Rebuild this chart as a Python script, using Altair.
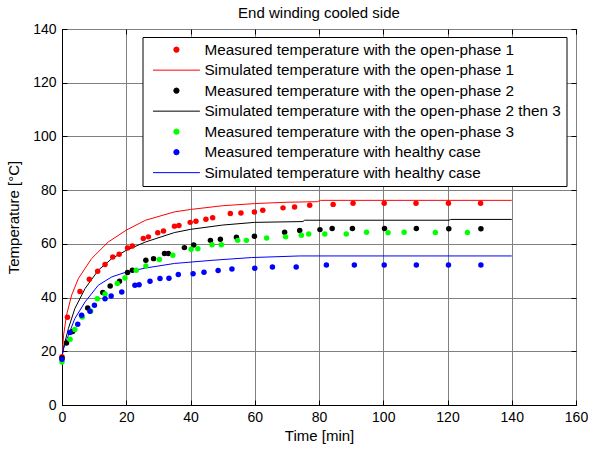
import altair as alt
import pandas as pd

FONT = "Liberation Sans"

labels = [
    "Measured temperature with the open-phase 1",
    "Simulated temperature with the open-phase 1",
    "Measured temperature with the open-phase 2",
    "Simulated temperature with the open-phase 2 then 3",
    "Measured temperature with the open-phase 3",
    "Measured temperature with healthy case",
    "Simulated temperature with healthy case",
]
colors = ["#ff0000", "#ff0000", "#000000", "#000000", "#00ff00", "#0000ff", "#0000ff"]

# Measured points
t_red = [0, 1.7, 5.6, 8.5, 11.1, 13.4, 15.8, 17.8, 20.4, 21.9, 25.3, 26.9, 29.8, 31.6, 35.0, 36.4,
         39.9, 41.7, 44.8, 46.9, 52.4, 55.7, 59.9, 62.5, 68.8, 72.4, 77.1, 84.4, 90.6, 100.3, 110.2,
         120.3, 130.3]
y_red = [18.0, 32.7, 42.3, 46.8, 49.8, 52.3, 55.1, 56.1, 58.5, 59.2, 62.0, 62.6, 64.1, 64.8, 66.6, 66.8,
         68.0, 68.4, 69.2, 69.7, 71.3, 71.5, 71.9, 72.5, 73.4, 73.7, 74.4, 74.7, 75.1, 75.1, 75.1,
         75.1, 75.1]

t_blk = [0, 1.4, 3.3, 8.0, 12.7, 15.0, 17.9, 20.4, 21.9, 26.1, 28.5, 31.9, 33.1, 38.1, 41.0, 46.2,
         49.3, 54.3, 59.9, 69.3, 74.0, 80.3, 84.1, 90.4, 100.4, 110.3, 120.4, 130.4]
y_blk = [17.5, 23.1, 27.4, 36.1, 41.9, 44.3, 46.1, 49.3, 50.2, 53.9, 54.5, 56.4, 56.4, 58.6, 59.6, 61.3,
         61.7, 62.5, 62.8, 64.3, 65.0, 65.3, 65.7, 65.7, 65.7, 65.7, 65.6, 65.6]

t_grn = [0, 2.5, 4.0, 6.3, 8.9, 11.0, 13.4, 17.2, 19.6, 23.1, 26.1, 30.3, 34.5, 40.2, 42.3, 46.7,
         49.6, 54.7, 57.4, 63.7, 69.6, 74.5, 76.8, 81.8, 88.5, 94.8, 101.5, 106.5, 116.2, 126.2]
y_grn = [16.0, 24.5, 28.1, 32.8, 34.9, 39.6, 41.3, 45.2, 47.3, 50.2, 51.8, 54.2, 55.8, 58.0, 58.2, 59.7,
         59.7, 61.3, 61.3, 62.2, 62.6, 63.2, 63.7, 63.7, 63.7, 64.3, 64.1, 64.3, 64.2, 64.2]

t_blu = [0, 2.5, 4.9, 6.1, 8.7, 10.1, 13.4, 15.3, 18.6, 22.7, 24.0, 27.4, 30.5, 33.3, 36.2, 40.8,
         44.2, 48.6, 52.9, 60.0, 65.5, 72.9, 82.3, 91.0, 100.3, 110.3, 120.3, 130.4]
y_blu = [17.0, 27.0, 30.1, 33.4, 34.9, 37.1, 39.6, 40.6, 42.1, 44.6, 44.8, 46.1, 47.1, 47.2, 48.6, 48.9,
         49.4, 50.1, 50.6, 50.9, 51.4, 51.4, 52.1, 52.1, 52.1, 52.1, 52.1, 52.1]

# Simulated curves
ts_red = [0, 0.5, 1.4, 3.0, 5.1, 9.2, 14.4, 20, 26, 35, 40, 50, 60, 70, 79.5, 80.5, 140]
ys_red = [18, 26, 33.4, 40.9, 47.1, 54.5, 60.7, 65.1, 68.8, 71.9, 72.8, 74.2, 75.0, 75.5, 75.7, 76.2, 76.2]

ts_blk = [0, 0.5, 2.0, 4.0, 7.2, 11.3, 15.5, 20, 26, 35, 40, 50, 60, 75, 75.5, 120.5, 121, 140]
ys_blk = [18, 21.5, 28.5, 35.9, 43.4, 50.2, 54.5, 57.6, 60.7, 64.2, 65.4, 67.0, 68.0, 68.3, 68.8, 68.8, 69.1, 69.1]

ts_blu = [0, 0.5, 2.0, 4.0, 7.2, 11.3, 15.5, 20, 26, 35, 47, 59, 74, 140]
ys_blu = [18, 21, 26, 32.2, 38.4, 44.6, 47.7, 49.5, 51.0, 52.7, 53.9, 54.9, 55.5, 55.5]

x_ticks = [0, 20, 40, 60, 80, 100, 120, 140, 160]
y_ticks = [0, 20, 40, 60, 80, 100, 120, 140]


def frame(ts, ys, name):
    return pd.DataFrame({"t": ts, "T": ys, "series": name})


meas = pd.concat([
    frame(t_red, y_red, labels[0]),
    frame(t_blk, y_blk, labels[2]),
    frame(t_grn, y_grn, labels[4]),
    frame(t_blu, y_blu, labels[5]),
])
sim = pd.concat([
    frame(ts_red, ys_red, labels[1]),
    frame(ts_blk, ys_blk, labels[3]),
    frame(ts_blu, ys_blu, labels[6]),
])

xs = alt.Scale(domain=[0, 160], nice=False)
ys = alt.Scale(domain=[0, 140], nice=False)
cs = alt.Scale(domain=labels, range=colors)

LFS = 15.3
is_sim = "indexof(datum.value, 'Simulated') === 0"
legend = alt.Legend(
    title=None, orient="none", legendX=80.5, legendY=8,
    labelFontSize=LFS, labelFont=FONT, labelColor="black", labelLimit=0,
    symbolOffset=21.3, labelOffset=20.3, padding=5, rowPadding=4.5,
    strokeColor="black", fillColor="white", symbolStrokeWidth=1, symbolOpacity=1,
    symbolType=alt.ExprRef(expr=f"isString(datum) ? 'circle' : ({is_sim} ? 'stroke' : 'circle')"),
    symbolSize=alt.ExprRef(expr=f"isString(datum) ? 30 : ({is_sim} ? 2200 : 28)"),
    symbolStrokeColor=alt.ExprRef(expr="scale('color', isString(datum) ? datum : datum.value)"),
    symbolFillColor=alt.ExprRef(expr="scale('color', isString(datum) ? datum : datum.value)"),
)

x_axis = alt.Axis(values=x_ticks, title="Time [min]", ticks=False, labelPadding=5, titlePadding=4,
                  labelFlush=False)
y_axis = alt.Axis(values=y_ticks, title="Temperature [°C]", ticks=False, labelPadding=6,
                  titlePadding=11, labelFlush=False)


def tick_axis(orient, values):
    return alt.Axis(orient=orient, values=values, offset=-5, tickSize=5, tickColor="black",
                    tickWidth=1, labels=False, domain=False, grid=False, title=None)


lines = alt.Chart(sim).mark_line(strokeWidth=1, clip=True).encode(
    x=alt.X("t:Q", scale=xs, axis=x_axis),
    y=alt.Y("T:Q", scale=ys, axis=y_axis),
    color=alt.Color("series:N", scale=cs, legend=legend, sort=labels),
)
points = alt.Chart(meas).mark_circle(size=30, opacity=1).encode(
    x=alt.X("t:Q", scale=xs, axis=None),
    y=alt.Y("T:Q", scale=ys, axis=None),
    color=alt.Color("series:N", scale=cs, legend=legend, sort=labels),
)
ticks_lb = alt.Chart(meas).mark_point(opacity=0).encode(
    x=alt.X("t:Q", scale=xs, axis=tick_axis("bottom", x_ticks)),
    y=alt.Y("T:Q", scale=ys, axis=tick_axis("left", y_ticks)),
)
ticks_tr = alt.Chart(meas).mark_point(opacity=0).encode(
    x=alt.X("t:Q", scale=xs, axis=tick_axis("top", x_ticks)),
    y=alt.Y("T:Q", scale=ys, axis=tick_axis("right", y_ticks)),
)

chart = alt.layer(lines, points, ticks_lb, ticks_tr).resolve_axis(
    x="independent", y="independent"
).properties(
    width=514, height=376,
    title=alt.Title("End winding cooled side", fontSize=15, font=FONT, fontWeight="normal",
                    color="black", offset=1),
    autosize=alt.AutoSizeParams(type="none"),
    padding={"left": 62, "top": 29, "right": 14, "bottom": 44},
    background="white",
).configure_view(stroke="black", strokeWidth=1).configure_axis(
    labelFont=FONT, labelFontSize=14, labelColor="black",
    titleFont=FONT, titleFontSize=15, titleFontWeight="normal", titleColor="black",
    domainColor="black", gridColor="#808080", gridOpacity=1, gridWidth=1,
)

chart.save("out.html", embed_options={"renderer": "svg", "actions": False})
